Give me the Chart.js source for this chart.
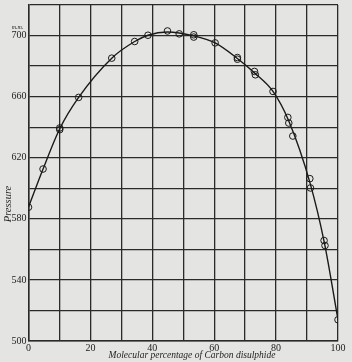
<!DOCTYPE html>
<html>
<head>
<meta charset="utf-8">
<script src="https://cdn.jsdelivr.net/npm/chart.js@4"></script>
<style>
  body { margin: 0; background: #e4e4e2; }
  canvas { display: block; }
</style>
</head>
<body>
<canvas id="grafico" width="352" height="362"></canvas>
<script>
// observed points (circles)
const molPercent = [0, 4.7, 10.1, 10.1, 16.2, 26.9, 34.3, 38.6, 44.9, 48.7, 53.4, 53.4, 60.3, 67.5, 67.5, 73.0, 73.3, 79.0, 83.8, 84.1, 85.4, 90.9, 91.1, 95.5, 95.8, 100];
const pressure = [587.6, 612.6, 639.5, 638.4, 659.5, 685.2, 696.1, 700.2, 703.0, 701.1, 700.5, 699.0, 695.2, 685.6, 684.5, 676.5, 674.3, 663.4, 646.4, 642.7, 634.2, 606.3, 600.2, 565.8, 562.5, 513.9];

// smooth curve drawn through the observations
const curveX = [0, 4.7, 10.1, 16.2, 26.9, 34.3, 38.6, 44.9, 53.4, 60.3, 67.5, 73.1, 79.0, 84.0, 91.0, 95.6, 100];
const curveY = [587.6, 612.6, 639.0, 659.5, 685.2, 696.1, 700.2, 702.3, 699.8, 695.2, 685.0, 675.4, 663.4, 644.5, 603.2, 564.2, 513.9];

const xTicks = [0, 20, 40, 60, 80, 100];
const yTicks = [500, 540, 580, 620, 660, 700];

const pontos = molPercent.map((x, i) => ({ x: x, y: pressure[i] }));
const curva = curveX.map((x, i) => ({ x: x, y: curveY[i] }));

const fundo = {
    id: 'fundo',
    beforeDraw(chart) {
        const c = chart.ctx;
        c.save();
        c.fillStyle = '#e4e4e2';
        c.fillRect(0, 0, chart.width, chart.height);
        c.restore();
    },
    afterDraw(chart) {
        const c = chart.ctx;
        const area = chart.chartArea;
        const y = chart.scales.y.getPixelForValue(700);
        c.save();
        c.fillStyle = '#222';
        c.font = 'italic 6px "Liberation Serif"';
        c.textAlign = 'center';
        c.fillText('m.m.', area.left - 11, y - 7);

        // axis titles
        c.font = 'italic 9.5px "Liberation Serif"';
        c.textBaseline = 'middle';
        c.fillText('Molecular percentage of Carbon disulphide', 192, 355);
        c.font = 'italic 10.5px "Liberation Serif"';
        c.translate(8, 204);
        c.rotate(-Math.PI / 2);
        c.fillText('Pressure', 0, 0);
        c.restore();
    }
};

const ctx = document.getElementById('grafico').getContext('2d');
new Chart(ctx, {
    type: 'scatter',
    data: {
        datasets: [{
            label: 'curve',
            data: curva,
            showLine: true,
            borderColor: '#1a1a1a',
            borderWidth: 1.4,
            pointRadius: 0,
            cubicInterpolationMode: 'monotone',
            order: 2
        }, {
            label: 'observations',
            data: pontos,
            showLine: false,
            borderColor: '#1a1a1a',
            backgroundColor: 'rgba(0,0,0,0)',
            borderWidth: 1,
            pointRadius: 3.3,
            order: 1
        }]
    },
    options: {
        responsive: false,
        animation: false,
        layout: { padding: { top: 4, right: 14, left: 0, bottom: 0 } },
        plugins: {
            legend: { display: false },
            tooltip: { enabled: false }
        },
        scales: {
            x: {
                type: 'linear',
                min: 0,
                max: 100,
                afterFit(scale) { scale.height = 21; scale.paddingLeft = 0; scale.paddingRight = 0; },
                afterBuildTicks(scale) {
                    scale.ticks = [0, 10, 20, 30, 40, 50, 60, 70, 80, 90, 100].map(v => ({ value: v }));
                },
                ticks: {
                    padding: 1,
                    color: '#222',
                    font: { family: 'Liberation Serif', size: 10 },
                    maxRotation: 0,
                    autoSkip: false,
                    callback: v => xTicks.includes(v) ? v : ''
                },
                grid: { color: '#2a2a2a', lineWidth: 1.3, drawTicks: false },
                border: { color: '#2a2a2a', width: 1.5 },
                title: { display: false }
            },
            y: {
                type: 'linear',
                min: 500,
                max: 720,
                afterFit(scale) { scale.width = 28.5; scale.paddingTop = 0; scale.paddingBottom = 0; },
                afterBuildTicks(scale) {
                    const t = [];
                    for (let v = 500; v <= 720; v += 20) t.push({ value: v });
                    scale.ticks = t;
                },
                ticks: {
                    padding: 2,
                    color: '#222',
                    font: { family: 'Liberation Serif', size: 10 },
                    autoSkip: false,
                    callback: v => yTicks.includes(v) ? v : ''
                },
                grid: { color: '#2a2a2a', lineWidth: 1.3, drawTicks: false },
                border: { color: '#2a2a2a', width: 1.5 },
                title: { display: false }
            }
        }
    },
    plugins: [fundo]
});
</script>
</body>
</html>
